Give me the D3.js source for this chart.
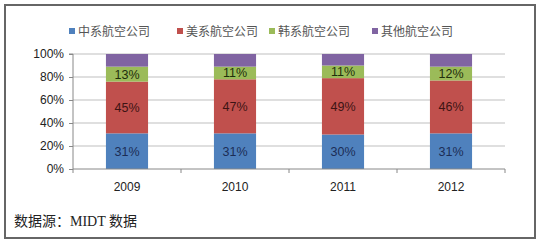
<!DOCTYPE html>
<html><head><meta charset="utf-8">
<script src="https://cdn.jsdelivr.net/npm/d3@7"></script>
<style>body{margin:0;background:#fff}svg{display:block}</style>
</head><body>
<svg id="c" width="540" height="242"></svg>
<script>
const years = ["2009","2010","2011","2012"];
const seriesNames = ["中系航空公司","美系航空公司","韩系航空公司","其他航空公司"];
const china = [31,31,30,31];
const usa = [45,47,49,46];
const korea = [13,11,11,12];
const other = [11,11,10,11];
const yTicks = [0,20,40,60,80,100];

const colors = ["#4F81BD","#C0504D","#9BBB59","#8064A2"];
const labelColors = ["#1c2d55","#3d1414","#1f2e0c",null];
const svg = d3.select("#c");

svg.append("rect").attr("x",5).attr("y",5).attr("width",530).attr("height",233)
  .attr("fill","#fff").attr("stroke","#666").attr("stroke-width",2);

const L=73, R=505, T=54, B=169;
const x = d3.scaleBand().domain(years).range([L,R]).paddingInner(0.61).paddingOuter(0.305);
const y = d3.scaleLinear().domain([0,100]).range([B,T]);

// gridlines
svg.append("g").selectAll("line").data(yTicks.filter(d=>d>0)).join("line")
  .attr("x1",L).attr("x2",R).attr("y1",d=>y(d)).attr("y2",d=>y(d))
  .attr("stroke","#bfbfbf").attr("stroke-width",1);

const data = years.map((yr,i)=>({year:yr, vals:[china[i],usa[i],korea[i],other[i]]}));
const stackData = years.map((yr,i)=>{const o={year:yr}; seriesNames.forEach((s,j)=>o[s]=[china,usa,korea,other][j][i]); return o;});
const stack = d3.stack().keys(seriesNames)(stackData);

const g = svg.append("g");
stack.forEach((layer,j)=>{
  g.selectAll(null).data(layer).join("rect")
    .attr("x",d=>x(d.data.year)).attr("width",x.bandwidth())
    .attr("y",d=>y(Math.min(d[1],100))).attr("height",d=>y(d[0])-y(Math.min(d[1],100)))
    .attr("fill",colors[j]);
  if(labelColors[j]){
    g.selectAll(null).data(layer).join("text")
      .attr("x",d=>x(d.data.year)+x.bandwidth()/2)
      .attr("y",d=>(y(d[0])+y(d[1]))/2)
      .attr("dy","0.36em").attr("text-anchor","middle")
      .attr("font-family","Liberation Sans, Arial, sans-serif").attr("font-size",12.5)
      .attr("fill",labelColors[j]).text(d=>(d[1]-d[0])+"%");
  }
});

// y axis
const ya = svg.append("g").attr("transform",`translate(${L},0)`)
  .call(d3.axisLeft(y).tickValues(yTicks).tickFormat(d=>d+"%").tickSize(4).tickPadding(5));
ya.select(".domain").attr("stroke","#888").attr("d",`M-4,${T}H0V${B}`);
ya.selectAll(".tick line").attr("stroke","#888");
ya.selectAll("text").attr("font-family","Liberation Sans, Arial, sans-serif").attr("font-size",12).attr("fill","#222");

// x axis
const xa = svg.append("g").attr("transform",`translate(0,${B})`);
xa.append("line").attr("x1",L).attr("x2",R).attr("stroke","#888");
const step = x.step();
const bounds = d3.range(years.length+1).map(i=>L+i*(R-L)/years.length);
xa.selectAll(".tk").data(bounds).join("line").attr("x1",d=>d).attr("x2",d=>d).attr("y1",0).attr("y2",4).attr("stroke","#888");
xa.selectAll(".lb").data(years).join("text")
  .attr("x",d=>x(d)+x.bandwidth()/2).attr("y",22).attr("text-anchor","middle")
  .attr("font-family","Liberation Sans, Arial, sans-serif").attr("font-size",12).attr("fill","#222").text(d=>d);

// legend
const legX = [69,177,269,372];
const lg = svg.append("g");
seriesNames.forEach((s,j)=>{
  lg.append("rect").attr("x",legX[j]).attr("y",28).attr("width",6).attr("height",6).attr("fill",colors[j]);
  lg.append("text").attr("x",legX[j]+9).attr("y",35.5).attr("font-family","Noto Sans CJK SC, sans-serif")
    .attr("font-size",12).attr("fill","#555").text(s);
});

// source
svg.append("text").attr("x",14).attr("y",226).attr("font-family","Liberation Serif, Noto Sans CJK SC, serif")
  .attr("font-size",14).attr("fill","#222").text("数据源：MIDT 数据");
</script>
</body></html>
